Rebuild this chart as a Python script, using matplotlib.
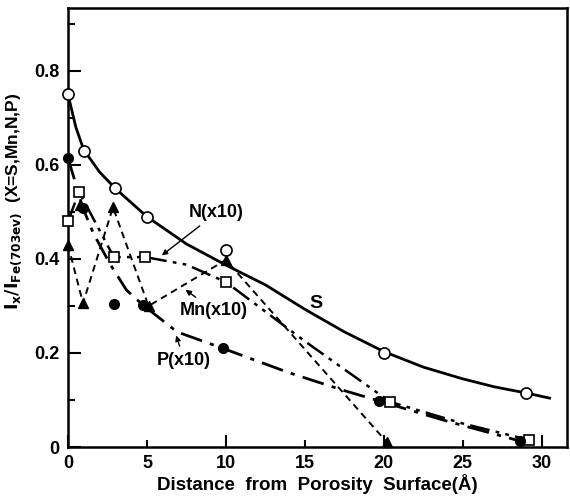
import matplotlib
matplotlib.use("Agg")
import matplotlib.pyplot as plt
from matplotlib.ticker import MultipleLocator, FixedLocator

plt.rcParams['font.family'] = ['Liberation Sans', 'DejaVu Sans']
plt.rcParams['font.weight'] = 'bold'
plt.rcParams['mathtext.fontset'] = 'dejavusans'

# S: measured points and the smooth hand-drawn curve
s_x = [0, 1, 3, 5, 10, 20, 29]
s_y = [0.75, 0.63, 0.55, 0.49, 0.42, 0.20, 0.115]
s_curve_x = [0, 0.5, 1, 2, 3, 5, 7.5, 10, 12.5, 15, 17.5, 20, 22.5, 25, 27, 29, 30.5]
s_curve_y = [0.75, 0.68, 0.632, 0.585, 0.55, 0.49, 0.432, 0.387, 0.345, 0.293, 0.245, 0.203, 0.17, 0.145, 0.128, 0.115, 0.104]

# N(x10): squares, dash-dot-dot
n_x = [0, 0.7, 2.9, 4.9, 10, 20.4, 29.2]
n_y = [0.48, 0.543, 0.404, 0.404, 0.351, 0.096, 0.015]
n_curve_x = [0, 0.7, 2.9, 4.9, 7.5, 10, 15, 20.4, 25, 29.2]
n_curve_y = [0.48, 0.543, 0.404, 0.404, 0.388, 0.351, 0.225, 0.096, 0.05, 0.015]

# P(x10): filled circles, dash-dot
p_x = [0, 0.95, 2.9, 4.75, 9.8, 19.7, 28.6]
p_y = [0.615, 0.508, 0.304, 0.302, 0.21, 0.098, 0.013]
p_curve_x = [0, 0.95, 1.6, 2.65, 3.7, 4.75, 6.9, 9.8, 14, 17.4, 19.7, 24, 28.6]
p_curve_y = [0.615, 0.508, 0.455, 0.39, 0.334, 0.302, 0.245, 0.21, 0.158, 0.121, 0.098, 0.055, 0.013]

# Mn(x10): triangles, dashed zig-zag
mn_x = [0, 0.76, 0.95, 2.85, 5.1, 10, 20.2]
mn_y = [0.43, 0.515, 0.306, 0.51, 0.30, 0.398, 0.01]
mn_line = [0, 2, 3, 4, 5, 6]

fig = plt.figure(figsize=(5.7, 4.97), dpi=100)
ax = fig.add_axes([0.1193, 0.1006, 0.8754, 0.8833])

ax.plot(s_curve_x, s_curve_y, '-', color='black', lw=2.0)
ax.plot(s_x, s_y, 'o', mfc='white', mec='black', mew=1.2, ms=8, zorder=5, clip_on=False)

ax.plot(n_curve_x, n_curve_y, color='black', lw=1.8,
        linestyle=(0, (8, 2.5, 1.5, 2.5, 1.5, 2.5)))
ax.plot(n_x, n_y, 's', mfc='white', mec='black', mew=1.2, ms=7, zorder=5, clip_on=False)

ax.plot(p_curve_x, p_curve_y, color='black', lw=2.0,
        linestyle=(0, (8, 3, 1.5, 3)))
ax.plot(p_x, p_y, 'o', color='black', ms=7, zorder=5, clip_on=False)

ax.plot([mn_x[i] for i in mn_line], [mn_y[i] for i in mn_line], color='black',
        lw=1.4, linestyle=(0, (3.5, 2.5)))
ax.plot(mn_x, mn_y, '^', color='black', ms=7, zorder=5, clip_on=False)

arw = dict(arrowstyle='-|>', color='black', lw=1.0, mutation_scale=8)
ax.annotate('N(x10)', xy=(5.8, 0.404), xytext=(9.4, 0.498), fontsize=13,
            fontweight='bold', ha='center', va='center', arrowprops=arw)
ax.annotate('Mn(x10)', xy=(7.3, 0.338), xytext=(9.2, 0.291), fontsize=13,
            fontweight='bold', ha='center', va='center', arrowprops=arw)
ax.annotate('P(x10)', xy=(6.8, 0.243), xytext=(7.35, 0.185), fontsize=13,
            fontweight='bold', ha='center', va='center', arrowprops=arw)
ax.text(15.7, 0.305, 'S', fontsize=14, fontweight='bold', ha='center', va='center')

ax.set_xlim(0, 31.6)
ax.set_ylim(0, 0.934)

ax.xaxis.set_major_locator(FixedLocator([0, 10, 20, 30]))
ax.set_xticklabels(['0', '10', '20', '30'])
ax.set_xticks([5, 15, 25], ['5', '15', '25'], minor=True)
ax.yaxis.set_major_locator(FixedLocator([0, 0.2, 0.4, 0.6, 0.8]))
ax.yaxis.set_minor_locator(MultipleLocator(0.1))
ax.set_yticklabels(['0', '0.2', '0.4', '0.6', '0.8'])

ax.tick_params(which='both', direction='in', width=1.5, labelsize=13, pad=6)
ax.tick_params(which='major', length=9)
ax.tick_params(which='minor', length=5)
for lab in ax.get_xticklabels(which='both') + ax.get_yticklabels():
    lab.set_fontweight('bold')
for sp in ax.spines.values():
    sp.set_linewidth(1.8)

ax.set_xlabel('Distance  from  Porosity  Surface(Å)', fontsize=13.5,
              fontweight='bold', labelpad=1)
ax.set_ylabel(r'$\mathbf{I_x/I_{Fe(703ev)}}$  (X=S,Mn,N,P)', fontsize=12.5,
              fontweight='bold')
ax.yaxis.set_label_coords(-0.088, 0.56)

fig.savefig('out.png', dpi=100)
